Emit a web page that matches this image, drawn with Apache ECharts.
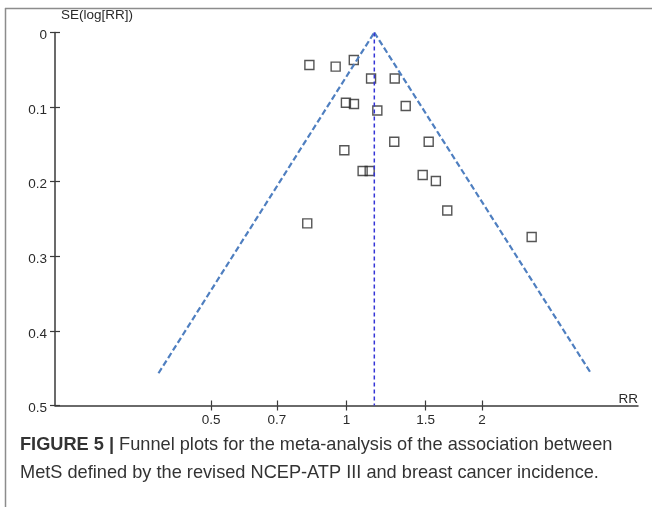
<!DOCTYPE html>
<html>
<head>
<meta charset="utf-8">
<script src="https://cdn.jsdelivr.net/npm/echarts@6/dist/echarts.min.js"></script>
<style>
html,body{margin:0;padding:0;background:#fff;}
#c{width:652px;height:507px;}
</style>
</head>
<body>
<div id="c"></div>
<script>
// Study estimates (RR) and standard errors SE(log[RR])
const studyRR = [0.827, 0.946, 1.038, 1.134, 1.280, 0.997, 1.039, 1.171, 1.354, 1.277, 1.523, 0.989, 1.086, 1.126, 1.477, 1.580, 1.675, 0.818, 2.580];
const studySE = [0.0436, 0.0458, 0.0369, 0.0617, 0.0617, 0.0941, 0.0958, 0.1046, 0.0985, 0.1464, 0.1464, 0.1579, 0.1857, 0.1857, 0.191, 0.1991, 0.2386, 0.2558, 0.2741];
// Pooled estimate and funnel limits
const pooledRR = 1.153;
const funnelLeftRR = [0.382, 1.153];
const funnelLeftSE = [0.4568, 0];
const funnelRightRR = [1.153, 3.494];
const funnelRightSE = [0, 0.4568];
const pooledLineSE = [0, 0.5];
// Axis ticks
const xTickRR = [0.5, 0.7, 1, 1.5, 2];
const xTickLabels = ['0.5', '0.7', '1', '1.5', '2'];
const xRangeLog = [-0.648, 0.648];
const yTicks = [0, 0.1, 0.2, 0.3, 0.4, 0.5];

const lg = v => Math.log10(v);
const xTickVals = xTickRR.map(lg);
const scatterData = studyRR.map((r, i) => [lg(r), studySE[i]]);
const leftData = funnelLeftRR.map((r, i) => [lg(r), funnelLeftSE[i]]);
const rightData = funnelRightRR.map((r, i) => [lg(r), funnelRightSE[i]]);
const pooledData = pooledLineSE.map(s => [lg(pooledRR), s]);

const chart = echarts.init(document.getElementById('c'), null, {renderer: 'canvas'});
const font = 'Liberation Sans, Arial, sans-serif';
const xLabelFmt = v => {
  let best = 0, bd = Infinity;
  xTickVals.forEach((t, i) => { const d = Math.abs(t - v); if (d < bd) { bd = d; best = i; } });
  return xTickLabels[best];
};
const gridBox = {left: 55, top: 32.5, right: 14, bottom: 101.5};
chart.setOption({
  animation: false,
  backgroundColor: '#fff',
  grid: Object.assign({containLabel: false}, gridBox),
  xAxis: [
    {
      type: 'value', min: xRangeLog[0], max: xRangeLog[1], position: 'bottom',
      splitLine: {show: false},
      axisLine: {show: true, onZero: false, lineStyle: {color: '#3a3a3a', width: 1.5}},
      axisTick: {show: true, inside: true, length: 5, customValues: xTickVals, lineStyle: {color: '#3a3a3a', width: 1.2}},
      axisLabel: {show: true, customValues: xTickVals, formatter: xLabelFmt, margin: 8, color: '#2a2a2a', fontSize: 13.5, fontFamily: font}
    },
    {
      type: 'value', min: xRangeLog[0], max: xRangeLog[1], position: 'bottom', gridIndex: 0,
      splitLine: {show: false},
      axisLine: {show: false, onZero: false},
      axisTick: {show: true, inside: false, length: 5, customValues: xTickVals, lineStyle: {color: '#3a3a3a', width: 1.2}},
      axisLabel: {show: false}
    }
  ],
  yAxis: [
    {
      type: 'value', inverse: true, min: 0, max: 0.5, interval: 0.1, position: 'left',
      splitLine: {show: false},
      axisLine: {show: true, onZero: false, lineStyle: {color: '#3a3a3a', width: 1.5}},
      axisTick: {show: true, inside: false, length: 5, lineStyle: {color: '#3a3a3a', width: 1.2}},
      axisLabel: {show: true, margin: 8, color: '#2a2a2a', fontSize: 13.5, fontFamily: font, verticalAlign: 'top', lineHeight: 14, padding: [-4, 0, 0, 0],
        formatter: v => { const i = yTicks.findIndex(t => Math.abs(t - v) < 1e-9); return i >= 0 ? String(yTicks[i]) : ''; }}
    },
    {
      type: 'value', inverse: true, min: 0, max: 0.5, interval: 0.1, position: 'left',
      splitLine: {show: false},
      axisLine: {show: false, onZero: false},
      axisTick: {show: true, inside: true, length: 5, lineStyle: {color: '#3a3a3a', width: 1.2}},
      axisLabel: {show: false}
    }
  ],
  series: [
    {
      type: 'line', data: leftData, symbol: 'none', silent: true,
      lineStyle: {color: '#4f7fc0', width: 2.2, type: [6, 3]}
    },
    {
      type: 'line', data: rightData, symbol: 'none', silent: true,
      lineStyle: {color: '#4f7fc0', width: 2.2, type: [6, 3]}
    },
    {
      type: 'line', data: pooledData, symbol: 'none', silent: true,
      lineStyle: {color: '#3434d6', width: 1.5, type: [4, 3]}
    },
    {
      type: 'scatter', data: scatterData, symbol: 'rect', symbolSize: 9,
      itemStyle: {color: 'rgba(255,255,255,0)', borderColor: '#2b2b2b', borderWidth: 1.4}
    }
  ],
  graphic: [
    {type: 'line', shape: {x1: 5, y1: 8.5, x2: 652, y2: 8.5}, style: {stroke: '#8c8c8c', lineWidth: 1.5}},
    {type: 'line', shape: {x1: 5.5, y1: 8, x2: 5.5, y2: 507}, style: {stroke: '#8c8c8c', lineWidth: 1.5}},
    {type: 'text', left: 61, top: 8, style: {text: 'SE(log[RR])', fill: '#2a2a2a', font: '13.5px ' + font}},
    {type: 'text', right: 14, top: 392, style: {text: 'RR', fill: '#2a2a2a', font: '13.5px ' + font}},
    {type: 'text', left: 20, top: 436, style: {
      text: '{b|FIGURE 5 | }{r|Funnel plots for the meta-analysis of the association between}\n{r|MetS defined by the revised NCEP-ATP III and breast cancer incidence.}',
      rich: {
        b: {font: 'bold 18.2px ' + font, fill: '#333', lineHeight: 28},
        r: {font: '18.2px ' + font, fill: '#333', lineHeight: 28}
      }
    }}
  ]
});
</script>
</body>
</html>
